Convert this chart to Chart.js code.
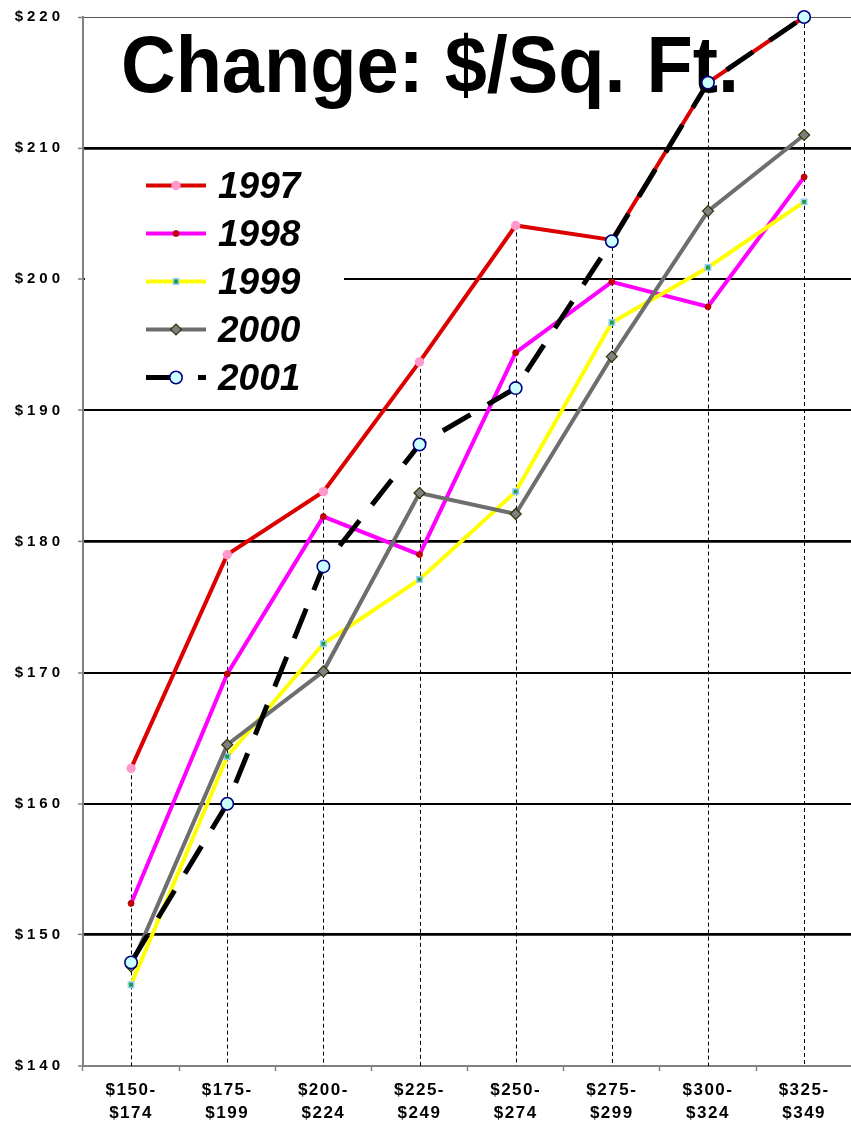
<!DOCTYPE html>
<html>
<head>
<meta charset="utf-8">
<script src="https://cdn.jsdelivr.net/npm/chart.js@4/dist/chart.umd.min.js"></script>
<style>
  html, body { margin: 0; padding: 0; background: #fff; overflow: hidden; }
  #wrap { width: 851px; height: 1123px; overflow: hidden; }
  canvas { display: block; }
</style>
</head>
<body>
<div id="wrap"><canvas id="c" width="860" height="1123"></canvas></div>
<script>
// Price bands ($ thousands of sale price) on the category axis
const categories = [
  ['$150-', '$174'], ['$175-', '$199'], ['$200-', '$224'], ['$225-', '$249'],
  ['$250-', '$274'], ['$275-', '$299'], ['$300-', '$324'], ['$325-', '$349']
];

// Average $ per square foot by year
const years = ['1997', '1998', '1999', '2000', '2001'];
const s1997 = [162.7, 179.0, 183.8, 193.7, 204.1, 203.0, 215.0, 220.0];
const s1998 = [152.4, 169.9, 181.9, 179.0, 194.4, 199.8, 197.9, 207.8];
const s1999 = [146.2, 163.6, 172.2, 177.1, 183.8, 196.7, 200.9, 205.9];
const s2000 = [147.6, 164.5, 170.1, 183.7, 182.1, 194.1, 205.2, 211.0];
const s2001 = [147.9, 160.0, 178.1, 187.4, 191.7, 202.9, 215.0, 220.0];

// Value axis range and step
const yMin = 140, yMax = 220, yStep = 10;

const chartTitle = 'Change: $/Sq. Ft.';
const FONT = '"Liberation Sans", Arial, Helvetica, sans-serif';

const seriesValues = [s1997, s1998, s1999, s2000, s2001];
const styles = [
  { borderColor: '#DD0000', borderWidth: 4, pointStyle: 'circle', pointRadius: 4.7,
    pointBackgroundColor: '#FF99CC', pointBorderColor: '#FF99CC', pointBorderWidth: 0 },
  { borderColor: '#FF00FF', borderWidth: 4, pointStyle: 'circle', pointRadius: 3,
    pointBackgroundColor: '#CC0000', pointBorderColor: '#990000', pointBorderWidth: 0.8 },
  { borderColor: '#FFFF00', borderWidth: 4, pointStyle: 'rect', pointRadius: 3.8,
    pointBackgroundColor: '#1E9E3A', pointBorderColor: '#99CCFF', pointBorderWidth: 1.5 },
  { borderColor: '#6E6E6E', borderWidth: 4, pointStyle: 'rectRot', pointRadius: 5.5,
    pointBackgroundColor: '#808080', pointBorderColor: '#333300', pointBorderWidth: 1.2 },
  { borderColor: '#000000', borderWidth: 5, borderDash: [32, 20], pointStyle: 'circle', pointRadius: 6.2,
    pointBackgroundColor: '#CCFFFF', pointBorderColor: '#000080', pointBorderWidth: 1.6 }
];

const datasets = years.map((yr, i) => Object.assign({
  label: yr,
  data: seriesValues[i],
  fill: false,
  tension: 0,
  clip: false,
  order: years.length - i,   // later years paint on top
  borderCapStyle: 'butt',
  borderJoinStyle: 'miter'
}, styles[i]));

// Wider letter spacing on axis labels
function spaceLabels(scale, spacing) {
  if (!scale || scale._spaced) return;
  const orig = scale.drawLabels;
  scale.drawLabels = function (area) {
    const c = this.ctx;
    c.save();
    c.letterSpacing = spacing;
    orig.call(this, area);
    c.restore();
  };
  scale._spaced = true;
}

const decorations = {
  id: 'decorations',
  beforeDraw(chart) {
    spaceLabels(chart.scales.y, '4px');
    spaceLabels(chart.scales.x, '1.5px');
  },
  beforeDatasetsDraw(chart) {
    const { ctx, chartArea, scales: { x, y } } = chart;

    // Drop lines from the highest value in each band to the axis
    ctx.save();
    ctx.strokeStyle = '#000';
    ctx.lineWidth = 1;
    ctx.setLineDash([4, 3]);
    categories.forEach((_, i) => {
      const top = Math.max(...seriesValues.map(s => s[i]));
      const px = Math.round(x.getPixelForValue(i)) + 0.5;
      ctx.beginPath();
      ctx.moveTo(px, y.getPixelForValue(top));
      ctx.lineTo(px, chartArea.bottom);
      ctx.stroke();
    });
    ctx.restore();

    // Chart title, set inside the plot
    ctx.save();
    ctx.fillStyle = '#000';
    ctx.font = 'bold 80px ' + FONT;
    ctx.textAlign = 'left';
    ctx.textBaseline = 'alphabetic';
    ctx.fillText(chartTitle, 121, 92, 618);
    ctx.restore();

    // Legend panel
    ctx.save();
    ctx.fillStyle = '#fff';
    ctx.fillRect(85, 156, 259, 246);
    chart.data.datasets.forEach((ds, i) => {
      const rowY = 185.5 + 48 * i;
      ctx.save();
      ctx.strokeStyle = ds.borderColor;
      ctx.lineWidth = ds.borderWidth;
      ctx.lineCap = 'butt';
      ctx.setLineDash(ds.borderDash || []);
      ctx.beginPath();
      ctx.moveTo(146, rowY);
      ctx.lineTo(206, rowY);
      ctx.stroke();
      ctx.restore();

      ctx.save();
      ctx.fillStyle = ds.pointBackgroundColor;
      ctx.strokeStyle = ds.pointBorderColor;
      ctx.lineWidth = ds.pointBorderWidth;
      Chart.helpers.drawPoint(ctx, {
        pointStyle: ds.pointStyle, radius: ds.pointRadius, rotation: 0,
        borderWidth: ds.pointBorderWidth
      }, 176, rowY);
      ctx.restore();

      ctx.save();
      ctx.fillStyle = '#000';
      ctx.font = 'italic bold 37px ' + FONT;
      ctx.textAlign = 'left';
      ctx.textBaseline = 'alphabetic';
      ctx.fillText(ds.label, 218, rowY + 12);
      ctx.restore();
    });
    ctx.restore();
  }
};

new Chart(document.getElementById('c'), {
  type: 'line',
  data: { labels: categories, datasets },
  plugins: [decorations],
  options: {
    responsive: false,
    animation: false,
    events: [],
    layout: { padding: { top: 17, right: 6, left: 0, bottom: 0 } },
    plugins: { legend: { display: false }, title: { display: false }, tooltip: { enabled: false } },
    scales: {
      x: {
        type: 'category',
        offset: true,
        afterFit(scale) { scale.height = 57; },
        border: { display: true, color: '#808080', width: 2 },
        grid: {
          offset: true, drawOnChartArea: false, drawTicks: true,
          tickLength: 5, tickColor: '#808080', tickWidth: 1.5
        },
        ticks: {
          color: '#000', maxRotation: 0, autoSkip: false, padding: 7,
          font: { family: FONT, size: 17, weight: 'bold', lineHeight: 1.4 }
        }
      },
      y: {
        min: yMin, max: yMax,
        afterFit(scale) {
          scale.width = 83;
          scale.paddingTop = 0;
          scale.paddingBottom = 0;
        },
        border: { display: true, color: '#808080', width: 2 },
        grid: {
          color: c => (c.tick && c.tick.value === yMax) ? '#555' : '#000',
          lineWidth: c => {
            const v = c.tick ? c.tick.value : 0;
            if (v === yMin) return 0;
            if (v === yMax) return 1;
            return (v % 30 === 0) ? 2.8 : 2;
          },
          drawTicks: true, tickLength: 5, tickColor: '#808080', tickWidth: 1.5
        },
        ticks: {
          stepSize: yStep, color: '#000', padding: 14,
          font: { family: FONT, size: 15, weight: 'bold' },
          callback: v => '$' + v
        }
      }
    }
  }
});
</script>
</body>
</html>
